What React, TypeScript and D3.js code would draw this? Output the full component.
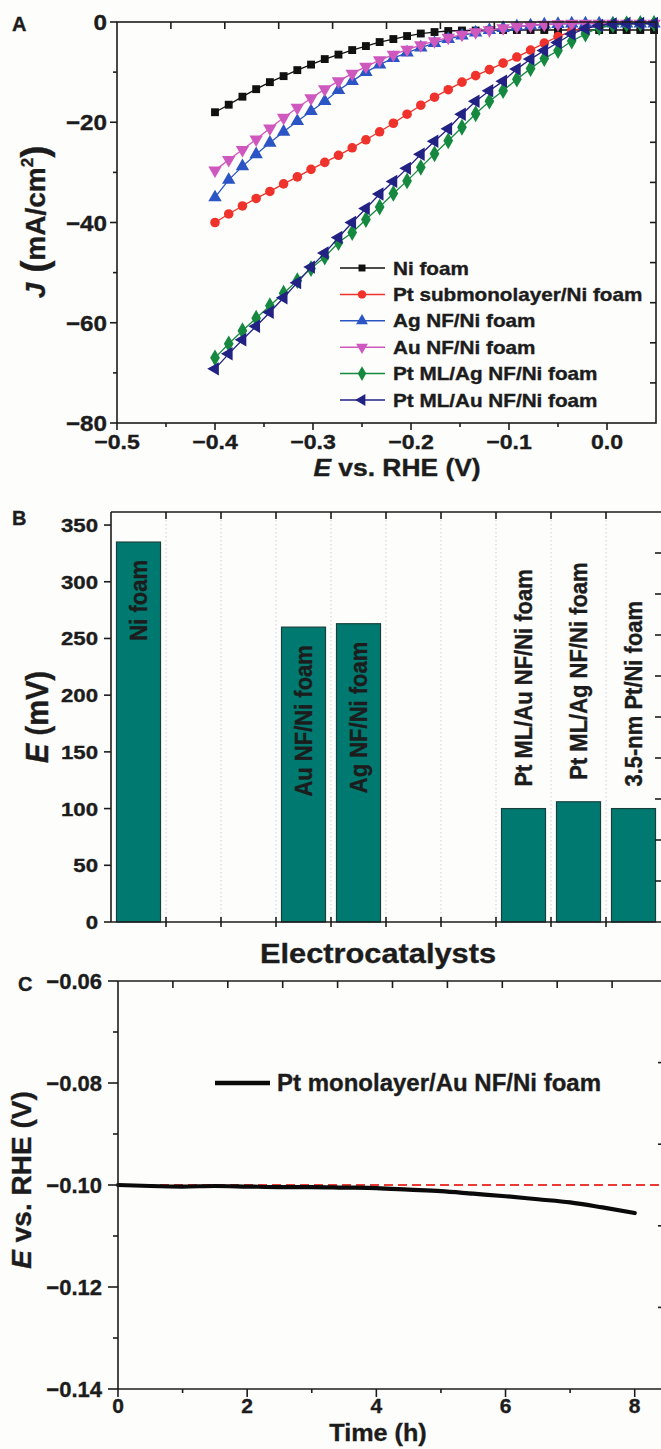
import * as d3 from "d3"

const FONT = "'Liberation Sans', Arial, Helvetica, sans-serif"
const INK = "#1c1c1c"

// ---- panel A: polarization curves ----
const potential = [
  -0.4, -0.386, -0.372, -0.358, -0.344, -0.33, -0.316, -0.302, -0.288, -0.274, -0.26,
  -0.246, -0.232, -0.218, -0.204, -0.19, -0.176, -0.162, -0.148, -0.134, -0.12, -0.106,
  -0.092, -0.078, -0.064, -0.05, -0.036, -0.022, -0.008, 0.006, 0.02, 0.034, 0.048,
]
const niFoam = [
  -18.0, -16.5, -14.9, -13.4, -12.0, -10.8, -9.6, -8.5, -7.4, -6.5, -5.6, -4.8, -4.0, -3.4,
  -2.8, -2.3, -2.0, -1.8, -1.7, -1.7, -1.6, -1.6, -1.6, -1.6, -1.6, -1.6, -1.6, -1.6, -1.6,
  -1.6, -1.6, -1.6, -1.6,
]
const ptSub = [
  -40.0, -38.3, -36.7, -35.2, -33.8, -32.3, -30.9, -29.4, -28.0, -26.6, -25.1, -23.5, -21.9,
  -20.2, -18.4, -16.6, -15.0, -13.5, -12.0, -10.7, -9.5, -8.2, -7.0, -5.6, -4.2, -2.9, -1.8,
  -1.0, -0.6, -0.4, -0.3, -0.3, -0.3,
]
const agNF = [
  -35.0, -31.5, -28.8, -26.4, -24.1, -21.9, -19.8, -17.8, -15.8, -13.6, -11.8, -10.0, -8.5,
  -7.2, -6.1, -5.1, -4.2, -3.4, -2.7, -2.1, -1.6, -1.2, -0.9, -0.7, -0.5, -0.4, -0.3, -0.3,
  -0.3, -0.3, -0.3, -0.3, -0.3,
]
const auNF = [
  -29.6, -27.5, -25.5, -23.4, -21.2, -19.1, -17.1, -15.2, -13.4, -11.8, -10.3, -8.9, -7.6,
  -6.5, -5.5, -4.6, -3.8, -3.1, -2.5, -2.0, -1.6, -1.2, -0.9, -0.7, -0.5, -0.4, -0.3, -0.3,
  -0.3, -0.3, -0.3, -0.3, -0.3,
]
const ptAg = [
  -67.0, -64.2, -61.6, -59.1, -56.6, -54.1, -51.6, -49.2, -46.9, -44.0, -42.0, -39.4, -36.9,
  -34.2, -31.7, -29.0, -26.3, -23.7, -21.0, -18.3, -15.8, -13.7, -11.4, -9.3, -7.3, -5.7,
  -3.8, -2.4, -1.1, -0.6, -0.4, -0.3, -0.3,
]
const ptAu = [
  -69.2, -66.2, -63.4, -60.7, -57.9, -55.0, -52.0, -48.9, -46.1, -43.0, -40.0, -37.2, -34.3,
  -31.8, -29.2, -26.4, -23.8, -21.3, -18.4, -15.8, -13.7, -11.8, -9.4, -7.4, -5.7, -4.1,
  -2.4, -1.3, -0.7, -0.4, -0.3, -0.3, -0.3,
]
const seriesNames = [
  "Ni foam",
  "Pt submonolayer/Ni foam",
  "Ag NF/Ni foam",
  "Au NF/Ni foam",
  "Pt ML/Ag NF/Ni foam",
  "Pt ML/Au NF/Ni foam",
]
const xTicksA = [-0.5, -0.4, -0.3, -0.2, -0.1, 0.0]
const yTicksA = [0, -20, -40, -60, -80]

// ---- panel B: overpotential bars ----
const slots = [
  "Ni foam", "gap1", "gap2", "Au NF/Ni foam", "Ag NF/Ni foam",
  "gap5", "gap6", "Pt ML/Au NF/Ni foam", "Pt ML/Ag NF/Ni foam", "3.5-nm Pt/Ni foam",
]
const overpotential = [335, null, null, 260, 263, null, null, 100, 106, 100]
const yTicksB = [0, 50, 100, 150, 200, 250, 300, 350]

// ---- panel C: stability ----
const hours = [0, 0.5, 1, 1.5, 2, 2.5, 3, 3.5, 4, 4.5, 5, 5.5, 6, 6.5, 7, 7.5, 8]
const stability = [
  -0.1, -0.1002, -0.1003, -0.1002, -0.1003, -0.1004, -0.1004, -0.1005, -0.1006, -0.1009,
  -0.1012, -0.1017, -0.1022, -0.1028, -0.1034, -0.1044, -0.1055,
]
const xTicksC = [0, 2, 4, 6, 8]
const yTicksC = [-0.06, -0.08, -0.1, -0.12, -0.14]

const Txt = ({ x, y, size, anchor = "middle", sx = 1, rot = 0, children, fill = INK, dy }: any) => (
  <text
    transform={`translate(${x},${y}) scale(${sx},1)${rot ? ` rotate(${rot})` : ""}`}
    fontSize={size}
    textAnchor={anchor}
    fontWeight="bold"
    fill={fill}
    stroke={fill}
    strokeWidth={0.35}
    dy={dy}
  >
    {children}
  </text>
)

const PanelA = () => {
  const x = d3.scaleLinear().domain([-0.5, 0.05]).range([117, 656])
  const y = d3.scaleLinear().domain([-80, 0]).range([423, 22])
  const [x0, x1] = x.range()
  const [y0, y1] = y.range()
  const fmtX = d3.format(".1f")
  const fmtY = d3.format("d")
  const line = d3.line<number>().x((_, i) => x(potential[i])).y((d) => y(d))
  const sq = d3.symbol().type(d3.symbolSquare).size(62)()!
  const circ = d3.symbol().type(d3.symbolCircle).size(72)()!
  const tri = d3.symbol().type(d3.symbolTriangle).size(78)()!
  const dia = d3.symbol().type(d3.symbolDiamond).size(82)()!
  const series = [
    { values: niFoam, color: "#111111", path: sq, rot: 0 },
    { values: ptSub, color: "#f0322c", path: circ, rot: 0 },
    { values: agNF, color: "#2b55c4", path: tri, rot: 0 },
    { values: auNF, color: "#cf58bf", path: tri, rot: 180 },
    { values: ptAg, color: "#15893f", path: dia, rot: 0 },
    { values: ptAu, color: "#222184", path: tri, rot: -90 },
  ]
  const legendSym = [
    d3.symbol().type(d3.symbolSquare).size(48)()!,
    d3.symbol().type(d3.symbolCircle).size(56)()!,
    d3.symbol().type(d3.symbolTriangle).size(60)()!,
    d3.symbol().type(d3.symbolTriangle).size(60)()!,
    d3.symbol().type(d3.symbolDiamond).size(62)()!,
    d3.symbol().type(d3.symbolTriangle).size(60)()!,
  ]
  const minorX = [-0.45, -0.35, -0.25, -0.15, -0.05]
  const minorY = [-10, -30, -50, -70]
  const div = d3.range(1, 10)
  return (
    <g>
      <Txt x={12} y={31} size={20} anchor="start">A</Txt>
      {series.map((s, i) => (
        <g key={i}>
          <path d={line(s.values)!} fill="none" stroke={s.color} strokeWidth={1.3} />
          {s.values.map((v, j) => (
            <path
              key={j}
              d={s.path}
              fill={s.color}
              transform={`translate(${x(potential[j])},${y(v)}) rotate(${s.rot})`}
            />
          ))}
        </g>
      ))}
      <g stroke={INK} strokeWidth={1.6} fill="none">
        <rect x={x0} y={y1} width={x1 - x0} height={y0 - y1} />
        {xTicksA.map((t) => <line key={t} x1={x(t)} x2={x(t)} y1={y0} y2={y0 + 7} />)}
        {minorX.map((t) => <line key={t} x1={x(t)} x2={x(t)} y1={y0} y2={y0 + 4} />)}
        {yTicksA.map((t) => <line key={t} x1={x0 - 7} x2={x0} y1={y(t)} y2={y(t)} />)}
        {minorY.map((t) => <line key={t} x1={x0 - 4} x2={x0} y1={y(t)} y2={y(t)} />)}
        {div.map((k) => {
          const tx = x0 + (k * (x1 - x0)) / 10
          return <line key={"t" + k} x1={tx} x2={tx} y1={y1} y2={y1 + 7} />
        })}
        {div.map((k) => {
          const ty = y1 + (k * (y0 - y1)) / 10
          return <line key={"r" + k} x1={x1 - 6} x2={x1} y1={ty} y2={ty} />
        })}
      </g>
      {xTicksA.map((t) => (
        <Txt key={t} x={x(t)} y={y0 + 26} size={21} sx={1.1}>{fmtX(t)}</Txt>
      ))}
      {yTicksA.map((t) => (
        <Txt key={t} x={x0 - 10} y={y(t) + 8} size={22} sx={1.1} anchor="end">{fmtY(t)}</Txt>
      ))}
      <text transform="translate(397,476) scale(1.1,1)" fontSize={24} fontWeight="bold" textAnchor="middle" fill={INK} stroke={INK} strokeWidth={0.35}>
        <tspan fontStyle="italic">E</tspan> vs. RHE (V)
      </text>
      <text transform="translate(45,222) rotate(-90)" fontSize={28} fontWeight="bold" textAnchor="middle" fill={INK} stroke={INK} strokeWidth={0.35}>
        <tspan fontStyle="italic">J</tspan>
        <tspan fontSize={36} dy={2}> (</tspan>
        <tspan dy={-2}>mA/cm</tspan>
        <tspan fontSize={17} dy={-12}>2</tspan>
        <tspan fontSize={36} dy={14}>)</tspan>
      </text>
      {seriesNames.map((name, i) => {
        const ly = 268 + i * 26.4
        const s = series[i]
        return (
          <g key={name}>
            <line x1={340} x2={385} y1={ly} y2={ly} stroke={s.color} strokeWidth={1.5} />
            <path d={legendSym[i]} fill={s.color} transform={`translate(362,${ly}) rotate(${s.rot})`} />
            <Txt x={393} y={ly + 6.5} size={18} sx={1.15} anchor="start">{name}</Txt>
          </g>
        )
      })}
    </g>
  )
}

const PanelB = () => {
  const x = d3.scaleBand().domain(slots).range([111, 661]).paddingInner(0.2).paddingOuter(0.1)
  const y = d3.scaleLinear().domain([0, 361.5]).range([922, 512])
  const [x0, x1] = x.range()
  const [y0, y1] = y.range()
  const step = x.step()
  const bounds = d3.range(1, 10).map((k) => x0 + k * step)
  const rightDiv = d3.range(1, 10).map((k) => y1 + (k * (y0 - y1)) / 10)
  return (
    <g>
      <Txt x={12} y={525} size={20} anchor="start">B</Txt>
      {bounds.map((b) => (
        <line key={b} x1={b} x2={b} y1={y1} y2={y0} stroke="#c9d2de" strokeWidth={1} strokeDasharray="1.5,2.5" />
      ))}
      {slots.map((s, i) => {
        const v = overpotential[i]
        if (v == null) return null
        const bx = x(s)!
        const top = y(v)
        const cx = bx + x.bandwidth() / 2
        const inside = v > 200
        return (
          <g key={s}>
            <rect x={bx} y={top} width={x.bandwidth()} height={y0 - top} fill="#007a71" stroke="#17403c" strokeWidth={1.2} />
            <Txt
              x={cx}
              y={inside ? top + 18 : top - 22}
              size={22}
              rot={-90}
              sx={1.12}
              dy="0.36em"
              anchor={inside ? "end" : "start"}
            >
              {s}
            </Txt>
          </g>
        )
      })}
      <g stroke={INK} strokeWidth={1.6} fill="none">
        <line x1={x0} x2={x1} y1={y0} y2={y0} />
        <line x1={x0} x2={x1} y1={y1} y2={y1} />
        <line x1={x0} x2={x0} y1={y1} y2={y0} />
        {yTicksB.map((t) => <line key={t} x1={x0 - 7} x2={x0} y1={y(t)} y2={y(t)} />)}
        {bounds.map((b) => <line key={"b" + b} x1={b} x2={b} y1={y0 - 5} y2={y0 + 5} />)}
        {bounds.map((b) => <line key={"t" + b} x1={b} x2={b} y1={y1} y2={y1 + 7} />)}
        {rightDiv.map((r) => <line key={"r" + r} x1={x1 - 6} x2={x1} y1={r} y2={r} />)}
      </g>
      {yTicksB.map((t) => (
        <Txt key={t} x={x0 - 13} y={y(t) + 7} size={19} sx={1.17} anchor="end">{t}</Txt>
      ))}
      <text transform="translate(37,717) scale(1.1,1) rotate(-90)" fontSize={29} fontWeight="bold" textAnchor="middle" dy="0.36em" fill={INK} stroke={INK} strokeWidth={0.35}>
        <tspan fontStyle="italic">E</tspan> (mV)
      </text>
      <Txt x={378} y={963} size={27} sx={1.14}>Electrocatalysts</Txt>
    </g>
  )
}

const PanelC = () => {
  const x = d3.scaleLinear().domain([0, 8.5]).range([118, 667])
  const y = d3.scaleLinear().domain([-0.14, -0.06]).range([1389, 981])
  const [x0, x1] = x.range()
  const [y0, y1] = y.range()
  const fmtY = d3.format(".2f")
  const line = d3.line<number>().x((_, i) => x(hours[i])).y((d) => y(d)).curve(d3.curveMonotoneX)
  const minorX = [1, 3, 5, 7]
  const minorY = [-0.07, -0.09, -0.11, -0.13]
  const topDiv = d3.range(1, 10).map((k) => x0 + (k * (x1 - x0)) / 10)
  const rightDiv = d3.range(1, 5).map((k) => y1 + (k * (y0 - y1)) / 5)
  return (
    <g>
      <Txt x={18} y={991} size={20} anchor="start">C</Txt>
      <line x1={x0} x2={x1} y1={y(-0.1)} y2={y(-0.1)} stroke="#ea3a33" strokeWidth={2} strokeDasharray="9,5" />
      <path d={line(stability)!} fill="none" stroke="#0a0a0a" strokeWidth={4.2} strokeLinecap="round" />
      <g stroke={INK} strokeWidth={1.6} fill="none">
        <line x1={x0} x2={x1} y1={y0} y2={y0} />
        <line x1={x0} x2={x1} y1={y1} y2={y1} />
        <line x1={x0} x2={x0} y1={y1} y2={y0} />
        {xTicksC.map((t) => <line key={t} x1={x(t)} x2={x(t)} y1={y0} y2={y0 + 8} />)}
        {minorX.map((t) => <line key={t} x1={x(t)} x2={x(t)} y1={y0} y2={y0 + 4} />)}
        {yTicksC.map((t) => <line key={t} x1={x0 - 10} x2={x0} y1={y(t)} y2={y(t)} />)}
        {minorY.map((t) => <line key={t} x1={x0 - 5} x2={x0} y1={y(t)} y2={y(t)} />)}
        {topDiv.map((t) => <line key={"t" + t} x1={t} x2={t} y1={y1} y2={y1 + 7} />)}
        {rightDiv.map((r) => <line key={"r" + r} x1={x1 - 9} x2={x1} y1={r} y2={r} />)}
      </g>
      {xTicksC.map((t) => (
        <Txt key={t} x={x(t)} y={y0 + 24} size={21}>{t}</Txt>
      ))}
      {yTicksC.map((t) => (
        <Txt key={t} x={x0 - 16} y={y(t) + 8} size={22} anchor="end">{fmtY(t)}</Txt>
      ))}
      <Txt x={378} y={1441} size={24} sx={1.05}>Time (h)</Txt>
      <text transform="translate(21,1180) rotate(-90)" fontSize={28} fontWeight="bold" textAnchor="middle" dy="0.36em" fill={INK} stroke={INK} strokeWidth={0.35}>
        <tspan fontStyle="italic">E</tspan> vs. RHE (V)
      </text>
      <line x1={215} x2={270} y1={y(-0.08)} y2={y(-0.08)} stroke="#0a0a0a" strokeWidth={4.5} />
      <Txt x={277} y={y(-0.08) + 8} size={24} anchor="start">Pt monolayer/Au NF/Ni foam</Txt>
    </g>
  )
}

export default function App() {
  return (
    <div style={{ position: "absolute", left: 0, top: 0 }}>
      <svg width={661} height={1449} style={{ display: "block", background: "#fdfdfb", fontFamily: FONT }}>
        <PanelA />
        <PanelB />
        <PanelC />
      </svg>
    </div>
  )
}
